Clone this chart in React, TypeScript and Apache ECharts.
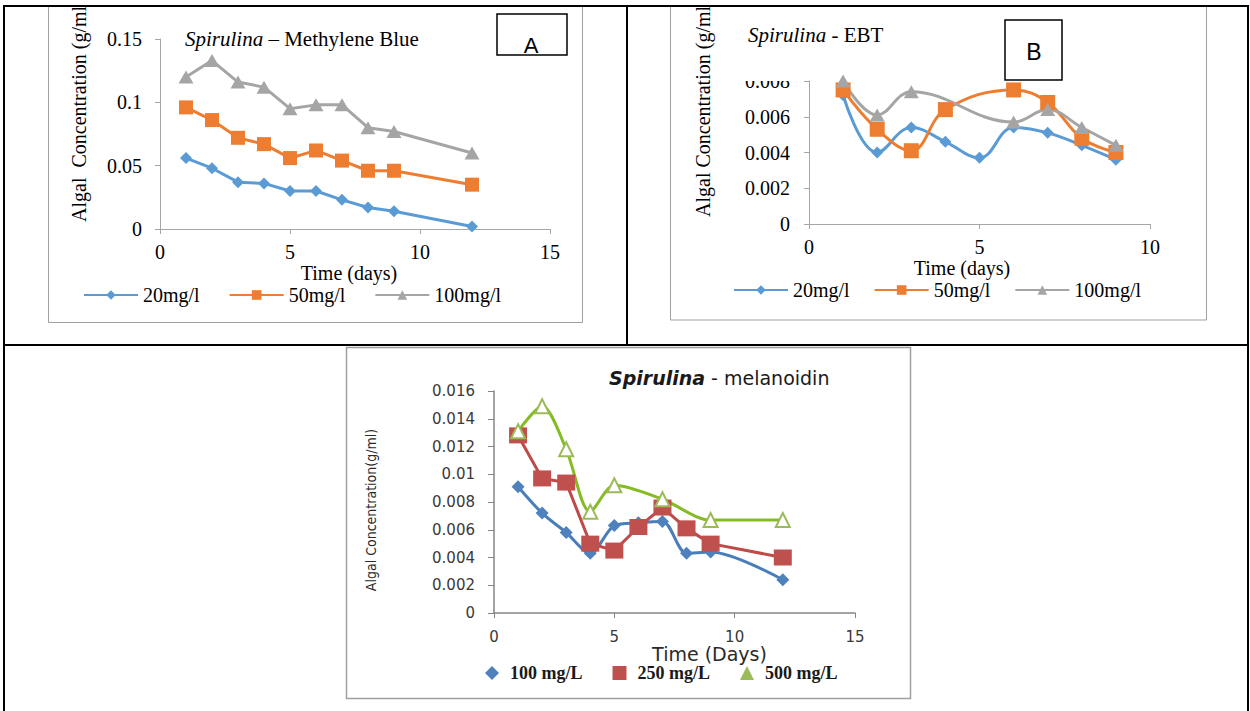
import React, { useEffect, useRef } from 'react';
import * as echarts from 'echarts';

// ---------- data ----------
// Panel A: Spirulina – Methylene Blue
const daysA = [1, 2, 3, 4, 5, 6, 7, 8, 9, 12];
const mb20 = [0.056, 0.048, 0.037, 0.036, 0.030, 0.030, 0.023, 0.017, 0.014, 0.002];
const mb50 = [0.096, 0.086, 0.072, 0.067, 0.056, 0.062, 0.054, 0.046, 0.046, 0.035];
const mb100 = [0.120, 0.133, 0.116, 0.112, 0.095, 0.098, 0.098, 0.080, 0.077, 0.060];

// Panel B: Spirulina - EBT
const daysB20 = [1, 2, 3, 4, 5, 6, 7, 8, 9];
const ebt20 = [0.0072, 0.0040, 0.0054, 0.0046, 0.0037, 0.0054, 0.0051, 0.0044, 0.0036];
const daysB50 = [1, 2, 3, 4, 6, 7, 8, 9];
const ebt50 = [0.0075, 0.0053, 0.0041, 0.0064, 0.0075, 0.0068, 0.0048, 0.0040];
const daysB100 = [1, 2, 3, 6, 7, 8, 9];
const ebt100 = [0.0080, 0.0061, 0.0074, 0.0057, 0.0064, 0.0054, 0.0044];

// Panel C: Spirulina - melanoidin
const daysC = [1, 2, 3, 4, 5, 6, 7, 8, 9, 12];
const mel100 = [0.0091, 0.0072, 0.0058, 0.0043, 0.0063, 0.0065, 0.0066, 0.0043, 0.0044, 0.0024];
const mel250 = [0.0128, 0.0097, 0.0094, 0.0050, 0.0045, 0.0062, 0.0076, 0.0061, 0.0050, 0.0040];
const daysC500 = [1, 2, 3, 4, 5, 7, 9, 12];
const mel500 = [0.0131, 0.0149, 0.0118, 0.0073, 0.0092, 0.0082, 0.0067, 0.0067];

const legendAB = ['20mg/l', '50mg/l', '100mg/l'];
const legendC = ['100 mg/L', '250 mg/L', '500 mg/L'];

const pairs = (xs: number[], ys: number[]) => xs.map((x, i) => [x, ys[i]]);

const serif = '"Liberation Serif", "Times New Roman", serif';
const sans = '"DejaVu Sans", Verdana, sans-serif';
const narrow = '"Liberation Sans Narrow", "DejaVu Sans Condensed", "Liberation Sans", sans-serif';

const BLUE = '#5B9BD5';
const ORANGE = '#ED7D31';
const GRAY = '#A5A5A5';
const AXIS_AB = '#a6a6a6';
const AXIS_C = '#868686';

function abXAxis(grid: number, max: number, margin: number, nameGap: number, pad: number) {
  return {
    gridIndex: grid, type: 'value', min: 0, max, interval: 5,
    axisLine: { show: true, onZero: false, lineStyle: { color: AXIS_AB, width: 1 } },
    axisTick: { show: true, length: 5, lineStyle: { color: AXIS_AB } },
    splitLine: { show: false },
    axisLabel: { fontFamily: serif, fontSize: 20, lineHeight: 20, color: '#000', margin },
    name: 'Time (days)', nameLocation: 'middle', nameGap,
    nameTextStyle: { fontFamily: serif, fontSize: 20, lineHeight: 20, color: '#000', padding: [0, pad, 0, 0] },
  };
}

function abYAxis(grid: number, max: number, interval: number, margin: number) {
  return {
    gridIndex: grid, type: 'value', min: 0, max, interval,
    axisLine: { show: true, onZero: false, lineStyle: { color: AXIS_AB, width: 1 } },
    axisTick: { show: true, length: 5, lineStyle: { color: AXIS_AB } },
    splitLine: { show: false },
    axisLabel: { fontFamily: serif, fontSize: 20, color: '#000', margin },
  };
}

function lineSeries(name: string, grid: number, data: number[][], color: string, symbol: string, symbolSize: any, smooth: any) {
  return {
    name, type: 'line', xAxisIndex: grid, yAxisIndex: grid, data,
    symbol, symbolSize, smooth, clip: true,
    color,
    lineStyle: { color, width: 3 },
    itemStyle: { color },
  };
}

const option: any = {
  animation: false,
  backgroundColor: '#ffffff',
  title: [
    {
      left: 185, top: 28, padding: 0,
      text: '{i|Spirulina} – Methylene Blue',
      textStyle: {
        fontFamily: serif, fontSize: 21, fontWeight: 'normal', color: '#000',
        rich: { i: { fontFamily: serif, fontSize: 21, fontStyle: 'italic', color: '#000' } },
      },
    },
    {
      left: 748, top: 24, padding: 0,
      text: '{i|Spirulina} - EBT',
      textStyle: {
        fontFamily: serif, fontSize: 21, fontWeight: 'normal', color: '#000',
        rich: { i: { fontFamily: serif, fontSize: 21, fontStyle: 'italic', color: '#000' } },
      },
    },
    {
      left: 609, top: 368, padding: 0,
      text: '{i|Spirulina} - melanoidin',
      textStyle: {
        fontFamily: sans, fontSize: 19, fontWeight: 'normal', color: '#1a1a1a',
        rich: { i: { fontFamily: sans, fontSize: 19, fontStyle: 'italic', fontWeight: 'bold', color: '#1a1a1a' } },
      },
    },
  ],
  grid: [
    { left: 160, top: 39, width: 390, height: 190 },
    { left: 809, top: 81, width: 341, height: 143 },
    { left: 494, top: 391, width: 361, height: 222 },
  ],
  xAxis: [
    abXAxis(0, 15, 13, 33, 12),
    abXAxis(1, 10, 13, 33, 35),
    {
      gridIndex: 2, type: 'value', min: 0, max: 15, interval: 5,
      axisLine: { show: true, onZero: false, lineStyle: { color: AXIS_C, width: 1.5 } },
      axisTick: { show: true, length: 5, lineStyle: { color: AXIS_C } },
      splitLine: { show: false },
      axisLabel: { fontFamily: sans, fontSize: 15, color: '#3a3a3a', margin: 16 },
      name: 'Time (Days)', nameLocation: 'middle', nameGap: 27,
      nameTextStyle: { fontFamily: sans, fontSize: 19, color: '#2a2a2a', padding: [0, 0, 0, 70] },
    },
  ],
  yAxis: [
    abYAxis(0, 0.15, 0.05, 18),
    abYAxis(1, 0.008, 0.002, 19),
    {
      gridIndex: 2, type: 'value', min: 0, max: 0.016, interval: 0.002,
      axisLine: { show: true, onZero: false, lineStyle: { color: AXIS_C, width: 1.5 } },
      axisTick: { show: true, length: 6, lineStyle: { color: AXIS_C } },
      splitLine: { show: false },
      axisLabel: { fontFamily: sans, fontSize: 15, color: '#3a3a3a', margin: 19 },
    },
  ],
  legend: [
    {
      left: 83, top: 285, padding: 0, itemWidth: 54, itemHeight: 12, itemGap: 29,
      textStyle: { fontFamily: serif, fontSize: 20, lineHeight: 20, color: '#000' },
      data: legendAB, selectedMode: false,
    },
    {
      left: 733, top: 280, padding: 0, itemWidth: 54, itemHeight: 12, itemGap: 24,
      textStyle: { fontFamily: serif, fontSize: 20, lineHeight: 20, color: '#000' },
      data: legendAB, selectedMode: false,
    },
    {
      left: 485, top: 664, padding: 0, itemWidth: 14, itemHeight: 14, itemGap: 30,
      textStyle: { fontFamily: serif, fontSize: 18, fontWeight: 'bold', color: '#1a1a1a', padding: [0, 0, 0, 6] },
      data: [
        { name: legendC[0], icon: 'diamond' },
        { name: legendC[1], icon: 'rect' },
        { name: legendC[2], icon: 'triangle' },
      ],
      selectedMode: false,
    },
  ],
  series: [
    lineSeries(legendAB[0], 0, pairs(daysA, mb20), BLUE, 'diamond', 12, false),
    lineSeries(legendAB[1], 0, pairs(daysA, mb50), ORANGE, 'rect', 14, false),
    lineSeries(legendAB[2], 0, pairs(daysA, mb100), GRAY, 'triangle', [15, 13], false),

    lineSeries(legendAB[0], 1, pairs(daysB20, ebt20), BLUE, 'diamond', 12, 0.4),
    lineSeries(legendAB[1], 1, pairs(daysB50, ebt50), ORANGE, 'rect', 15, 0.4),
    lineSeries(legendAB[2], 1, pairs(daysB100, ebt100), GRAY, 'triangle', [15, 13], 0.4),

    {
      name: legendC[0], type: 'line', xAxisIndex: 2, yAxisIndex: 2, data: pairs(daysC, mel100),
      symbol: 'diamond', symbolSize: 13, smooth: 0.3, color: '#4F81BD',
      lineStyle: { color: '#4A7EBB', width: 3 }, itemStyle: { color: '#4F81BD' },
    },
    {
      name: legendC[1], type: 'line', xAxisIndex: 2, yAxisIndex: 2, data: pairs(daysC, mel250),
      symbol: 'rect', symbolSize: [18, 16], smooth: false, color: '#C0504D',
      lineStyle: { color: '#BE4B48', width: 3 }, itemStyle: { color: '#C0504D' },
    },
    {
      name: legendC[2], type: 'line', xAxisIndex: 2, yAxisIndex: 2, data: pairs(daysC500, mel500),
      symbol: 'emptyTriangle', symbolSize: 14, smooth: 0.3, color: '#9BBB59',
      lineStyle: { color: '#86BC23', width: 3 }, itemStyle: { color: '#9BBB59', borderWidth: 1.5 },
    },
  ],
  graphic: [
    // rotated y-axis titles
    {
      type: 'text', x: 79, y: 222, rotation: Math.PI / 2, z: 50,
      style: { text: 'Algal  Concentration (g/ml)', font: '20px ' + serif, fill: '#000', textAlign: 'left', textVerticalAlign: 'middle', align: 'left', verticalAlign: 'middle' },
    },
    {
      type: 'text', x: 703, y: 217, rotation: Math.PI / 2, z: 50,
      style: { text: 'Algal Concentration (g/ml)', font: '20px ' + serif, fill: '#000', textAlign: 'left', textVerticalAlign: 'middle', align: 'left', verticalAlign: 'middle' },
    },
    {
      type: 'text', x: 371, y: 510, rotation: Math.PI / 2, z: 50,
      style: { text: 'Algal Concentration(g/ml)', font: '14px ' + narrow, fill: '#2a2a2a', textAlign: 'center', textVerticalAlign: 'middle', align: 'center', verticalAlign: 'middle' },
    },
    // white covers (clipping of chart areas)
    { type: 'rect', z: 90, shape: { x: 0, y: 0, width: 1250, height: 6 }, style: { fill: '#ffffff' } },
    { type: 'rect', z: 90, shape: { x: 738, y: 66, width: 64, height: 15 }, style: { fill: '#ffffff' } },
    // chart area frames
    { type: 'rect', z: 95, shape: { x: 48.5, y: 6.5, width: 534, height: 316 }, style: { fill: 'none', stroke: '#a0a0a0', lineWidth: 1 } },
    { type: 'rect', z: 95, shape: { x: 670.5, y: 6.5, width: 536, height: 313.5 }, style: { fill: 'none', stroke: '#a0a0a0', lineWidth: 1 } },
    { type: 'rect', z: 95, shape: { x: 346.5, y: 347.5, width: 564, height: 351 }, style: { fill: 'none', stroke: '#a0a0a0', lineWidth: 1.5 } },
    // panel letter boxes
    { type: 'rect', z: 96, shape: { x: 497, y: 14, width: 70, height: 41 }, style: { fill: '#fff', stroke: '#000', lineWidth: 1.5 } },
    { type: 'text', z: 97, x: 531, y: 45, style: { text: 'A', font: '22px "Liberation Sans", Arial, sans-serif', fill: '#000', textAlign: 'center', textVerticalAlign: 'middle', align: 'center', verticalAlign: 'middle' } },
    { type: 'rect', z: 96, shape: { x: 1005, y: 20, width: 57, height: 60 }, style: { fill: '#fff', stroke: '#000', lineWidth: 1.5 } },
    { type: 'text', z: 97, x: 1034, y: 52, style: { text: 'B', font: '23px "Liberation Sans", Arial, sans-serif', fill: '#000', textAlign: 'center', textVerticalAlign: 'middle', align: 'center', verticalAlign: 'middle' } },
    // table borders
    { type: 'line', z: 99, shape: { x1: 4, y1: 6, x2: 1248, y2: 6 }, style: { stroke: '#000', lineWidth: 2 } },
    { type: 'line', z: 99, shape: { x1: 4, y1: 5, x2: 4, y2: 711 }, style: { stroke: '#000', lineWidth: 2 } },
    { type: 'line', z: 99, shape: { x1: 1248, y1: 5, x2: 1248, y2: 711 }, style: { stroke: '#000', lineWidth: 2 } },
    { type: 'line', z: 99, shape: { x1: 627, y1: 6, x2: 627, y2: 345 }, style: { stroke: '#000', lineWidth: 2 } },
    { type: 'line', z: 99, shape: { x1: 4, y1: 345, x2: 1248, y2: 345 }, style: { stroke: '#000', lineWidth: 2 } },
  ],
};

export default function App() {
  const ref = useRef<HTMLDivElement>(null);
  useEffect(() => {
    if (!ref.current) return;
    const chart = echarts.init(ref.current, null, { renderer: 'svg' });
    chart.setOption(option);
    return () => chart.dispose();
  }, []);
  return (
    <div
      ref={ref}
      style={{ position: 'fixed', left: 0, top: 0, width: 1250, height: 711, background: '#fff' }}
    />
  );
}
